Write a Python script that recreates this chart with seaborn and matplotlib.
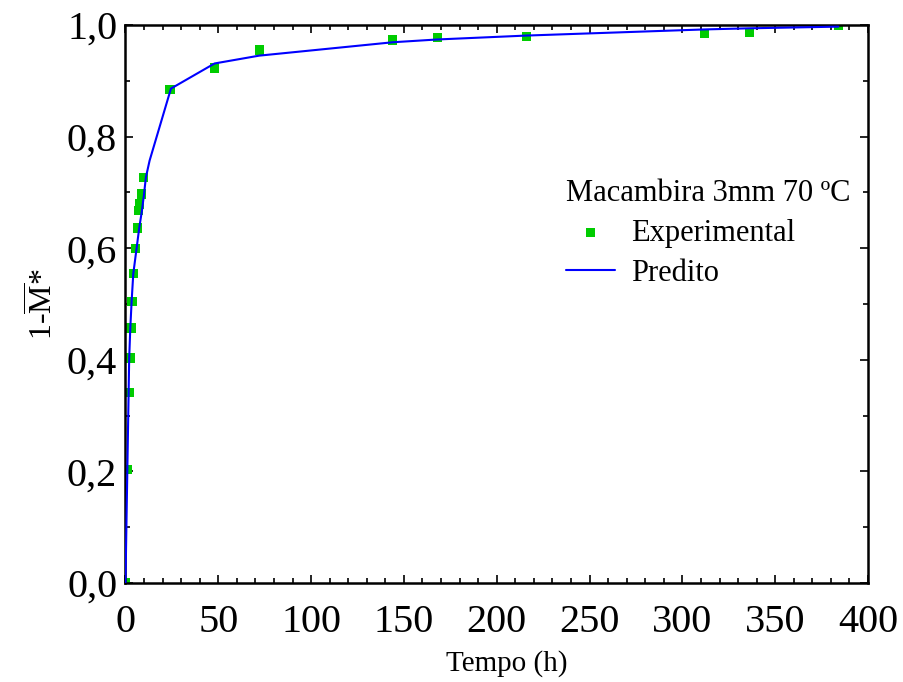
import matplotlib
matplotlib.use("Agg")
import matplotlib.pyplot as plt
import seaborn as sns
import pandas as pd
from matplotlib.ticker import MultipleLocator, FuncFormatter

# Experimental data
exp_time = [0, 1, 2, 2.5, 3, 3.5, 4.5, 5.5, 6.5, 7, 7.5, 8.5, 9.5,
            24, 48, 72, 144, 168, 216, 312, 336, 384]
exp_value = [0.0, 0.203, 0.342, 0.403, 0.457, 0.504, 0.554, 0.600, 0.636, 0.668,
             0.679, 0.697, 0.726, 0.884, 0.923, 0.955, 0.973, 0.977, 0.980,
             0.984, 0.987, 0.999]

# Predicted curve
pred_time = [0, 1, 1.7, 2, 2.6, 3.3, 4.2, 6, 7.4, 8.9, 10, 11, 13,
             24.5, 48, 72, 144, 168, 216, 312, 336, 384]
pred_value = [0.0, 0.2025, 0.342, 0.403, 0.457, 0.504, 0.554, 0.600, 0.636, 0.668,
              0.697, 0.727, 0.757, 0.886, 0.931, 0.945, 0.969, 0.974, 0.981,
              0.992, 0.994, 0.997]

legend_title = "Macambira 3mm 70 ºC"
x_label = "Tempo (h)"

sns.set_theme(style="ticks")
plt.rcParams['font.family'] = ['Liberation Serif', 'DejaVu Serif']
plt.rcParams['mathtext.fontset'] = 'custom'
plt.rcParams['mathtext.rm'] = 'Liberation Serif'
plt.rcParams['mathtext.it'] = 'Liberation Serif'
plt.rcParams['text.color'] = 'black'
plt.rcParams['axes.labelcolor'] = 'black'
plt.rcParams['xtick.color'] = 'black'
plt.rcParams['ytick.color'] = 'black'

df_exp = pd.DataFrame({"t": exp_time, "v": exp_value})
df_pred = pd.DataFrame({"t": pred_time, "v": pred_value})

fig = plt.figure(figsize=(9.04, 6.82), dpi=100)
ax = fig.add_axes([0.1388, 0.1452, 0.8214, 0.8182])

sns.scatterplot(data=df_exp, x="t", y="v", ax=ax, marker="s", s=44,
                color="#00CC00", edgecolor="none", linewidth=0,
                label="Experimental", zorder=2)
sns.lineplot(data=df_pred, x="t", y="v", ax=ax, color="#0000FF",
             linewidth=1.5, estimator=None, sort=True, label="Predito", zorder=3)

ax.set_xlim(0, 400)
ax.set_ylim(0, 1.0)
ax.xaxis.set_major_locator(MultipleLocator(50))
ax.xaxis.set_minor_locator(MultipleLocator(10))
ax.yaxis.set_major_locator(MultipleLocator(0.2))
ax.yaxis.set_minor_locator(MultipleLocator(0.1))
ax.yaxis.set_major_formatter(FuncFormatter(lambda v, p: f"{v:.1f}".replace(".", ",")))

ax.tick_params(which="both", direction="in", top=True, right=True,
               color="black", labelcolor="black", width=1.2)
ax.tick_params(which="major", length=6, labelsize=29)
ax.tick_params(axis="y", which="major", pad=6)
ax.tick_params(axis="x", which="major", pad=15)
ax.tick_params(which="minor", length=3.5)
for s in ax.spines.values():
    s.set_linewidth(1.8)
    s.set_color("black")

ax.set_xlabel(x_label, fontsize=21)
ax.xaxis.set_label_coords(0.514, -0.12)
ax.set_ylabel(r"1-$\overline{\mathrm{M}}$*", fontsize=23, labelpad=5)

leg = ax.legend(title=legend_title, frameon=False, loc="upper left",
                bbox_to_anchor=(0.565, 0.762), fontsize=22, title_fontsize=22,
                alignment="left", handlelength=1.6, handletextpad=0.5,
                labelspacing=0.35, markerscale=1.0, borderpad=0.2)

fig.savefig("out.png", dpi=100)
